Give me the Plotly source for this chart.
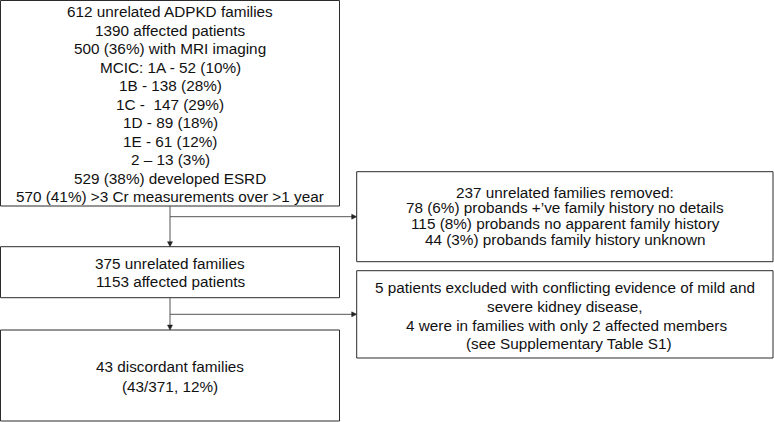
import plotly.graph_objects as go

# ---- text content (data) ----
box1_lines = [
    "612 unrelated ADPKD families",
    "1390 affected patients",
    "500 (36%) with MRI imaging",
    "MCIC: 1A - 52 (10%)",
    "1B - 138 (28%)",
    "1C -  147 (29%)",
    "1D - 89 (18%)",
    "1E - 61 (12%)",
    "2 \u2013 13 (3%)",
    "529 (38%) developed ESRD",
    "570 (41%) >3 Cr measurements over >1 year",
]
box2_lines = ["375 unrelated families", "1153 affected patients"]
box3_lines = ["43 discordant families", "(43/371, 12%)"]
side1_lines = [
    "237 unrelated families removed:",
    "78 (6%) probands +\u2019ve family history no details",
    "115 (8%) probands no apparent family history",
    "44 (3%) probands family history unknown",
]
side2_lines = [
    "5 patients excluded with conflicting evidence of mild and",
    "severe kidney disease,",
    "4 were in families with only 2 affected members",
    "(see Supplementary Table S1)",
]

# ---- layout geometry (pixels, y downward) ----
W, H = 774, 422
FONT = dict(family="Liberation Sans, Arial, sans-serif", size=15.3, color="#111111")
BORDER = "#2b2b2b"
CONN = "#555555"

boxes = [
    (0.5, 0.5, 339.5, 206.0),      # box1
    (0.5, 246.7, 339.5, 297.7),    # box2
    (0.5, 330.0, 339.5, 421.0),    # box3
    (356.7, 171.7, 773.0, 261.7),  # side1
    (356.7, 270.7, 773.0, 358.0),  # side2
]

fig = go.Figure()
fig.add_trace(go.Scatter(x=[0, W], y=[0, H], mode="markers",
                         marker=dict(opacity=0), hoverinfo="skip", showlegend=False))

for (x0, y0, x1, y1) in boxes:
    fig.add_shape(type="rect", x0=x0, y0=y0, x1=x1, y1=y1,
                  line=dict(color=BORDER, width=1), fillcolor="rgba(0,0,0,0)")

annots = []

def add_lines(lines, xs, ys):
    for t, x, y in zip(lines, xs, ys):
        annots.append(dict(x=x, y=y, text=t, showarrow=False, xanchor="center",
                           yanchor="middle", font=FONT, xref="x", yref="y",
                           borderpad=0))

add_lines(box1_lines, [170] * 11, [11.7 + 18.5 * i for i in range(11)])
add_lines(box2_lines, [170, 170], [263.3, 281.7])
add_lines(box3_lines, [170, 170], [366.7, 386.7])
add_lines(side1_lines, [565] * 4, [192.3, 207.7, 223.3, 239.3])
add_lines(side2_lines, [564.5, 564.5, 566, 568.5], [287.0, 306.5, 325.0, 343.3])

# connector lines
fig.add_shape(type="line", x0=170, y0=206, x1=170, y1=242, line=dict(color=CONN, width=1))
fig.add_shape(type="line", x0=170, y0=216.7, x1=352, y1=216.7, line=dict(color=CONN, width=1))
fig.add_shape(type="line", x0=170, y0=297.7, x1=170, y1=326, line=dict(color=CONN, width=1))
fig.add_shape(type="line", x0=170, y0=314.3, x1=352, y1=314.3, line=dict(color=CONN, width=1))

# arrowheads (small filled triangles)
def head_down(x, y):
    fig.add_shape(type="path", path=f"M {x-2.5},{y-5} L {x+2.5},{y-5} L {x},{y} Z",
                  fillcolor="#222222", line=dict(color="#222222", width=0.5))

def head_right(x, y):
    fig.add_shape(type="path", path=f"M {x-5},{y-2.5} L {x-5},{y+2.5} L {x},{y} Z",
                  fillcolor="#222222", line=dict(color="#222222", width=0.5))

head_down(170, 246.7)
head_down(170, 330.0)
head_right(356.7, 216.7)
head_right(356.7, 314.3)

fig.update_layout(
    width=W, height=H,
    margin=dict(l=0, r=0, t=0, b=0, pad=0),
    autosize=False,
    paper_bgcolor="white", plot_bgcolor="white",
    xaxis=dict(range=[0, W], visible=False, fixedrange=True),
    yaxis=dict(range=[H, 0], visible=False, fixedrange=True),
    annotations=annots,
    showlegend=False,
)

fig.write_html("out.html", config={"displayModeBar": False},
               post_script="document.body.style.margin='0';document.body.style.overflow='hidden';")
